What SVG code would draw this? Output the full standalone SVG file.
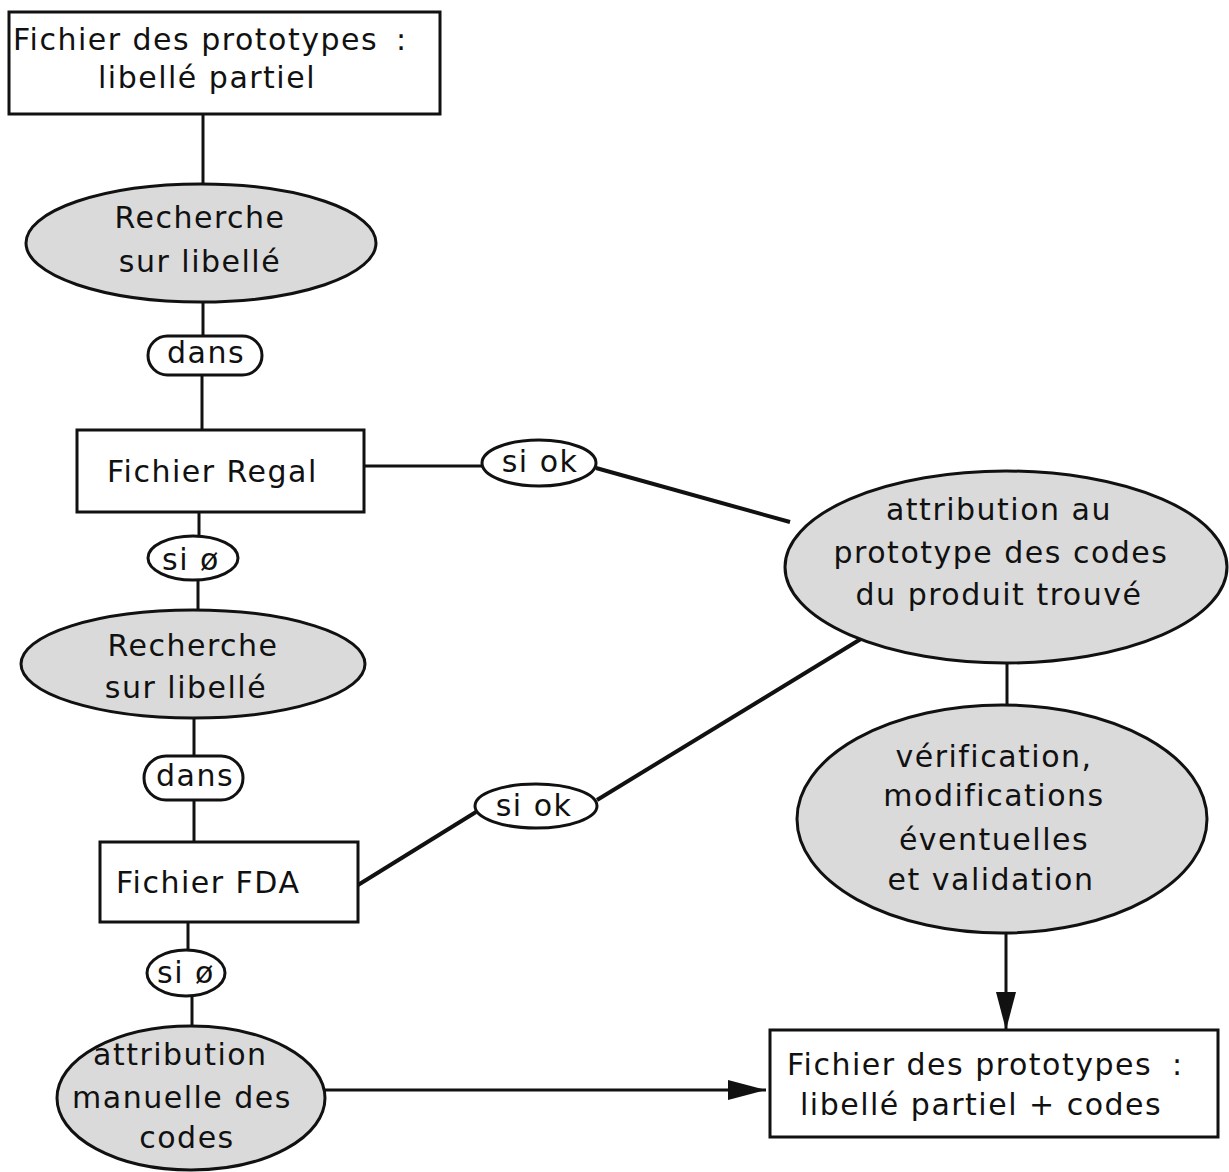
<svg xmlns="http://www.w3.org/2000/svg" width="1229" height="1172" viewBox="0 0 1229 1172">
<style>
text{font-family:"DejaVu Sans","Liberation Sans",sans-serif;font-size:30px;fill:#111;letter-spacing:1.5px}
.box{fill:#fff;stroke:#111;stroke-width:3}
.ell{fill:#dadada;stroke:#111;stroke-width:3}
.lab{fill:#fff;stroke:#111;stroke-width:3}
.c{stroke:#111;stroke-width:3;fill:none}
.t{stroke:#111;stroke-width:4;fill:none}
.m{text-anchor:middle}
</style>
<defs>
<marker id="ah" markerUnits="userSpaceOnUse" markerWidth="40" markerHeight="22" refX="38" refY="10" orient="auto">
<path d="M0,0 L38,10 L0,20 Z" fill="#111"/>
</marker>
</defs>
<rect width="1229" height="1172" fill="#fff"/>
<g id="connectors">
<line class="c" x1="203" y1="114" x2="203" y2="183"/>
<line class="c" x1="203" y1="302" x2="203" y2="336"/>
<line class="c" x1="202" y1="375" x2="202" y2="430"/>
<line class="c" x1="364" y1="466" x2="482" y2="466"/>
<line class="t" x1="596" y1="468" x2="790" y2="522"/>
<line class="c" x1="199" y1="512" x2="199" y2="537"/>
<line class="c" x1="198" y1="580" x2="198" y2="610"/>
<line class="c" x1="194" y1="718" x2="194" y2="756"/>
<line class="c" x1="194" y1="800" x2="194" y2="842"/>
<line class="t" x1="358" y1="885" x2="476" y2="812"/>
<line class="t" x1="597" y1="800" x2="869" y2="634"/>
<line class="c" x1="1007" y1="663" x2="1007" y2="705"/>
<line class="c" x1="1006" y1="933" x2="1006" y2="1030" marker-end="url(#ah)"/>
<line class="c" x1="188" y1="922" x2="188" y2="950"/>
<line class="c" x1="192" y1="997" x2="192" y2="1026"/>
<line class="c" x1="325" y1="1090" x2="766" y2="1090" marker-end="url(#ah)"/>
</g>
<g id="n-proto">
<rect class="box" x="9" y="12" width="431" height="102"/>
<text x="13" y="50">Fichier des prototypes</text>
<text x="396" y="50">:</text>
<text class="m" x="207" y="88">libellé partiel</text>
</g>
<g id="n-recherche1">
<ellipse class="ell" cx="201" cy="243" rx="175" ry="59"/>
<text class="m" x="200" y="228">Recherche</text>
<text class="m" x="200" y="272">sur libellé</text>
</g>
<g id="n-dans1">
<rect class="lab" x="148" y="336" width="114" height="39" rx="19.5"/>
<text class="m" x="206" y="363">dans</text>
</g>
<g id="n-regal">
<rect class="box" x="77" y="430" width="287" height="82"/>
<text x="107" y="482">Fichier Regal</text>
</g>
<g id="n-siok1">
<ellipse class="lab" cx="539" cy="463" rx="57" ry="23"/>
<text class="m" x="540" y="472">si ok</text>
</g>
<g id="n-sio1">
<ellipse class="lab" cx="193" cy="558" rx="45" ry="22"/>
<text class="m" x="191" y="570">si ø</text>
</g>
<g id="n-recherche2">
<ellipse class="ell" cx="193" cy="664" rx="172" ry="54"/>
<text class="m" x="193" y="656">Recherche</text>
<text class="m" x="186" y="698">sur libellé</text>
</g>
<g id="n-dans2">
<rect class="lab" x="144" y="756" width="99" height="44" rx="22"/>
<text class="m" x="195" y="786">dans</text>
</g>
<g id="n-fda">
<rect class="box" x="100" y="842" width="258" height="80"/>
<text x="116" y="893">Fichier FDA</text>
</g>
<g id="n-siok2">
<ellipse class="lab" cx="536" cy="806" rx="61" ry="22"/>
<text class="m" x="534" y="816">si ok</text>
</g>
<g id="n-sio2">
<ellipse class="lab" cx="186" cy="973" rx="39" ry="23"/>
<text class="m" x="186" y="983">si ø</text>
</g>
<g id="n-manuelle">
<ellipse class="ell" cx="191" cy="1098" rx="134" ry="72"/>
<text x="93" y="1065">attribution</text>
<text class="m" x="182" y="1108">manuelle des</text>
<text class="m" x="187" y="1148">codes</text>
</g>
<g id="n-attribution">
<ellipse class="ell" cx="1006" cy="567" rx="221" ry="96"/>
<text class="m" x="999" y="520">attribution au</text>
<text class="m" x="1001" y="563">prototype des codes</text>
<text class="m" x="999" y="605">du produit trouvé</text>
</g>
<g id="n-verification">
<ellipse class="ell" cx="1002" cy="819" rx="205" ry="114"/>
<text class="m" x="994" y="767">vérification,</text>
<text class="m" x="994" y="806">modifications</text>
<text class="m" x="994" y="850">éventuelles</text>
<text class="m" x="991" y="890">et validation</text>
</g>
<g id="n-proto2">
<rect class="box" x="770" y="1030" width="448" height="107"/>
<text x="787" y="1075">Fichier des prototypes</text>
<text x="1172" y="1075">:</text>
<text x="800" y="1115">libellé partiel + codes</text>
</g>
</svg>
